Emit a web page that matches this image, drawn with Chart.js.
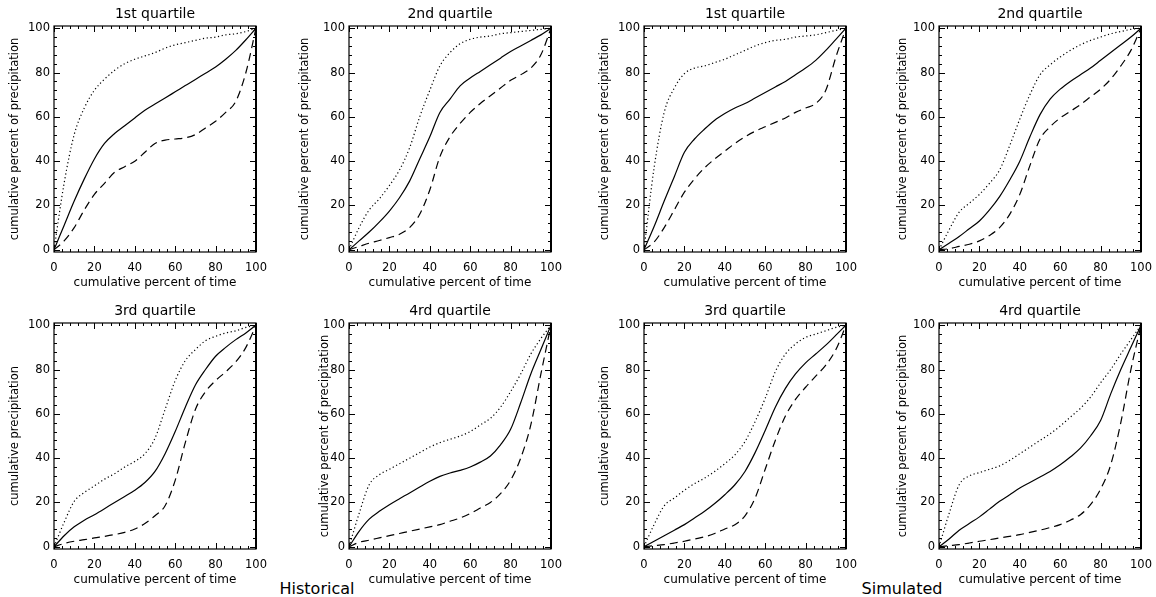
<!DOCTYPE html>
<html>
<head>
<meta charset="utf-8">
<script src="https://cdn.jsdelivr.net/npm/chart.js@4/dist/chart.umd.min.js"></script>
<style>
  body { margin: 0; background: #fff; width: 1156px; height: 597px; position: relative; overflow: hidden; font-family: "DejaVu Sans", sans-serif; }
  canvas { position: absolute; }
  .grupo { position: absolute; font-size: 16px; color: #000; transform: translate(-50%, -50%); white-space: nowrap; }
</style>
</head>
<body>
<div class="grupo" style="left:317px; top:588px">Historical</div>
<div class="grupo" style="left:902px; top:588px">Simulated</div>
<script>
// Curvas acumuladas de precipitación por cuartil (histórico y simulado)

const pctTime = [0, 5, 10, 15, 20, 25, 30, 35, 40, 45, 50, 55, 60, 65, 70, 75, 80, 85, 90, 95, 100];
const tickValues = [0, 20, 40, 60, 80, 100];

// histórico
const histQ1Solid  = [0, 11, 22, 32, 41, 48, 52.5, 56, 59.5, 63, 65.8, 68.5, 71.3, 74.1, 76.9, 79.7, 82.5, 86, 90, 94.8, 100];
const histQ1Dotted = [0, 30, 52, 64, 72, 77, 81, 84, 86, 87.5, 89, 91, 92.5, 93.5, 94.5, 95.5, 96, 97, 97.5, 98.5, 100];
const histQ1Dashed = [0, 4, 10, 18, 25, 30, 35, 37.5, 40, 44, 48, 49.5, 50, 50.5, 52, 55, 58, 62, 67, 80, 100];

const histQ2Solid  = [0, 4, 8, 12.5, 17.5, 23.5, 31, 41, 51, 62, 68, 74, 77.5, 80.5, 83.5, 86.5, 89.5, 92, 94.5, 97, 100];
const histQ2Dotted = [0, 10, 18, 23, 29, 36, 46, 60, 72, 83, 89, 93, 95, 96, 96.5, 97.5, 98, 98.5, 99, 99.5, 100];
const histQ2Dashed = [0, 1.5, 3, 4.2, 5.5, 7, 10, 16, 27, 42, 51, 57, 62, 66, 69.5, 73, 76.5, 79, 82, 88, 100];

const histQ3Solid  = [0, 5, 9, 12, 14.5, 17.2, 20, 22.7, 25.5, 29, 34, 42, 52, 63, 73, 80, 86, 90, 93.5, 96.5, 100];
const histQ3Dotted = [0, 11, 20.5, 24.5, 27.5, 30.5, 33, 36, 38.5, 42, 49, 62, 75, 84, 89, 93, 95, 96.5, 97.5, 99, 100];
const histQ3Dashed = [0, 1.5, 2.5, 3.2, 4, 4.7, 5.5, 6.5, 8, 10.5, 14, 18.5, 30, 47, 62, 70, 75, 79, 83.5, 90, 100];

const histQ4Solid  = [0, 7, 12.5, 16, 19, 21.7, 24.3, 27, 29.6, 31.8, 33.3, 34.5, 36, 38.2, 41, 46, 53, 65, 78, 89, 100];
const histQ4Dotted = [0, 15, 28, 32.5, 35, 37.5, 40, 42.5, 45, 47, 48.5, 50, 52, 55, 58, 63, 70, 78, 87, 94, 100];
const histQ4Dashed = [0, 2, 3, 4, 5, 6, 7, 8, 9, 10, 11.5, 13, 15, 17.5, 20, 24, 30, 40, 55, 78, 100];

// simulado
const simQ1Solid  = [0, 10.5, 22, 33, 44, 50, 54.5, 58.5, 61.5, 64, 66, 68.5, 71, 73.5, 76, 79, 82, 85.5, 90, 95, 100];
const simQ1Dotted = [0, 37, 62, 73, 79.5, 82, 83, 84.5, 86, 88, 90, 92, 93.5, 94.5, 95, 96, 96.5, 97, 98, 99, 100];
const simQ1Dashed = [0, 3.5, 10, 18, 26, 32, 37, 41, 44.5, 48, 51, 53.5, 55.5, 57.5, 59.5, 62, 64, 66, 72, 87, 100];

const simQ2Solid  = [0, 3, 6, 9.5, 13, 18, 24, 31.5, 40, 51, 61, 68, 72.5, 76, 79, 82, 85.5, 89, 92.5, 96, 100];
const simQ2Dotted = [0, 9, 17, 21, 25, 30, 36, 47, 59, 70, 79, 83.5, 87, 90, 92.5, 94.5, 96, 97.5, 98.5, 99.5, 100];
const simQ2Dashed = [0, 0.5, 1.5, 2.5, 4, 6.5, 10, 16, 25, 38, 50, 55.5, 59.5, 62.5, 65.5, 69, 72.5, 77, 83, 90, 100];

const simQ3Solid  = [0, 2.5, 5, 7.5, 10, 13, 16, 19.5, 23.5, 28, 34, 42.5, 52.5, 63, 71.5, 78, 83, 87, 91, 95.5, 100];
const simQ3Dotted = [0, 10, 18.5, 22, 25.5, 28.5, 31, 34, 37.5, 41.5, 47.5, 56.5, 67, 79, 87, 91.5, 94.5, 96, 97.5, 99, 100];
const simQ3Dashed = [0, 0.5, 1, 1.7, 2.5, 3.5, 4.5, 6, 8, 10, 14, 22, 35, 48, 59, 66.5, 72, 77, 82, 89, 100];

const simQ4Solid  = [0, 3.5, 7.5, 10.5, 13.5, 17, 20.5, 23.5, 26.5, 29, 31.5, 34, 37, 40.5, 44.5, 50, 57, 69, 80, 90, 100];
const simQ4Dotted = [0, 15, 28, 32, 33.5, 35, 36.5, 39, 42, 45, 48, 51, 54.5, 58.5, 62.5, 67.5, 74, 80, 87, 93.5, 100];
const simQ4Dashed = [0, 0.5, 1, 1.7, 2.5, 3.2, 4, 4.7, 5.5, 6.5, 7.5, 8.7, 10, 12, 14.5, 19, 26, 37, 56, 80, 100];

const panelTitles = ['1st quartile', '2nd quartile', '1st quartile', '2nd quartile',
                     '3rd quartile', '4rd quartile', '3rd quartile', '4rd quartile'];
const xTitle = 'cumulative percent of time';
const yTitles = ['cumulative percent of precipitation', 'cumulative percent of precipitation',
                 'cumulative percent of precipitation', 'cumulative percent of precipitation',
                 'cumulative precipitation', 'cumulative percent of precipitation',
                 'cumulative precipitation', 'cumulative percent of precipitation'];

const seriesByPanel = [
  [histQ1Solid, histQ1Dotted, histQ1Dashed],
  [histQ2Solid, histQ2Dotted, histQ2Dashed],
  [simQ1Solid, simQ1Dotted, simQ1Dashed],
  [simQ2Solid, simQ2Dotted, simQ2Dashed],
  [histQ3Solid, histQ3Dotted, histQ3Dashed],
  [histQ4Solid, histQ4Dotted, histQ4Dashed],
  [simQ3Solid, simQ3Dotted, simQ3Dashed],
  [simQ4Solid, simQ4Dotted, simQ4Dashed]
];

// disposición de los paneles (px)
const boxLeft = [54, 349, 644, 939, 54, 349, 644, 939];
const boxTop = [26, 26, 26, 26, 323, 323, 323, 323];
const yGap = [48, 53, 48, 45, 48, 33, 48, 45];
const BOX_W = 202, BOX_H = 226, TITLE_H = 26, XAXIS_H = 40;
const MINOR_STEP = 4;

// sólida, punteada, discontinua
const lineStyles = [
  { borderDash: [], borderWidth: 1.2 },
  { borderDash: [1.2, 2.6], borderWidth: 1.2 },
  { borderDash: [8, 5], borderWidth: 1.2 }
];

Chart.defaults.font.family = '"DejaVu Sans", sans-serif';
Chart.defaults.color = '#000';

// marco completo con marcas hacia dentro en los cuatro lados
const marcasInternas = {
  id: 'marcasInternas',
  afterDatasetsDraw(chart) {
    const { ctx, chartArea: a, scales: { x, y } } = chart;
    ctx.save();
    ctx.strokeStyle = '#000';
    ctx.lineWidth = 1.2;
    ctx.strokeRect(a.left, a.top, a.right - a.left, a.bottom - a.top);
    ctx.lineWidth = 2;
    ctx.beginPath();
    ctx.moveTo(a.right, a.top);
    ctx.lineTo(a.right, a.bottom);
    ctx.stroke();
    ctx.lineWidth = 1;
    ctx.beginPath();
    for (let v = 0; v <= 100; v += MINOR_STEP) {
      const len = v % 20 === 0 ? 6 : 3;
      const px = Math.round(x.getPixelForValue(v)) + 0.5;
      ctx.moveTo(px, a.bottom); ctx.lineTo(px, a.bottom - len);
      ctx.moveTo(px, a.top); ctx.lineTo(px, a.top + len);
      const py = Math.round(y.getPixelForValue(v)) + 0.5;
      ctx.moveTo(a.left, py); ctx.lineTo(a.left + len, py);
      ctx.moveTo(a.right, py); ctx.lineTo(a.right - len, py);
    }
    ctx.stroke();
    ctx.restore();
  }
};

seriesByPanel.forEach((series, i) => {
  const g = yGap[i];
  const cv = document.createElement('canvas');
  cv.width = BOX_W + 2 * g;
  cv.height = TITLE_H + BOX_H + XAXIS_H;
  cv.style.left = (boxLeft[i] - g) + 'px';
  cv.style.top = (boxTop[i] - TITLE_H) + 'px';
  document.body.appendChild(cv);

  new Chart(cv, {
    type: 'line',
    data: {
      datasets: series.map((ys, k) => ({
        data: pctTime.map((t, j) => ({ x: t, y: ys[j] })),
        borderColor: '#000',
        borderWidth: lineStyles[k].borderWidth,
        borderDash: lineStyles[k].borderDash,
        pointRadius: 0,
        fill: false,
        cubicInterpolationMode: 'monotone'
      }))
    },
    options: {
      responsive: false,
      animation: false,
      devicePixelRatio: 1,
      layout: { padding: { left: 0, right: g, top: 0, bottom: 0 } },
      plugins: {
        legend: { display: false },
        tooltip: { enabled: false },
        title: {
          display: true,
          fullSize: false,
          text: panelTitles[i],
          font: { size: 14, weight: 'normal' },
          color: '#000',
          padding: { top: 5.6, bottom: 3.6 }
        }
      },
      scales: {
        x: {
          type: 'linear',
          min: 0,
          max: 100,
          afterBuildTicks: s => { s.ticks = tickValues.map(v => ({ value: v })); },
          afterFit: s => { s.height = XAXIS_H; },
          grid: { display: false, drawTicks: false },
          border: { display: false },
          ticks: { font: { size: 11.5 }, padding: 9, maxRotation: 0 },
          title: { display: true, text: xTitle, font: { size: 12 }, padding: { top: 0, bottom: 1.5 } }
        },
        y: {
          type: 'linear',
          min: -1,
          max: 101,
          afterBuildTicks: s => { s.ticks = tickValues.map(v => ({ value: v })); },
          afterFit: s => { s.width = g; },
          grid: { display: false, drawTicks: false },
          border: { display: false },
          ticks: { font: { size: 11.5 }, padding: 4 },
          title: { display: true, text: yTitles[i], font: { size: 11.5 }, padding: { top: 2, bottom: 0 } }
        }
      }
    },
    plugins: [marcasInternas]
  });
});
</script>
</body>
</html>
